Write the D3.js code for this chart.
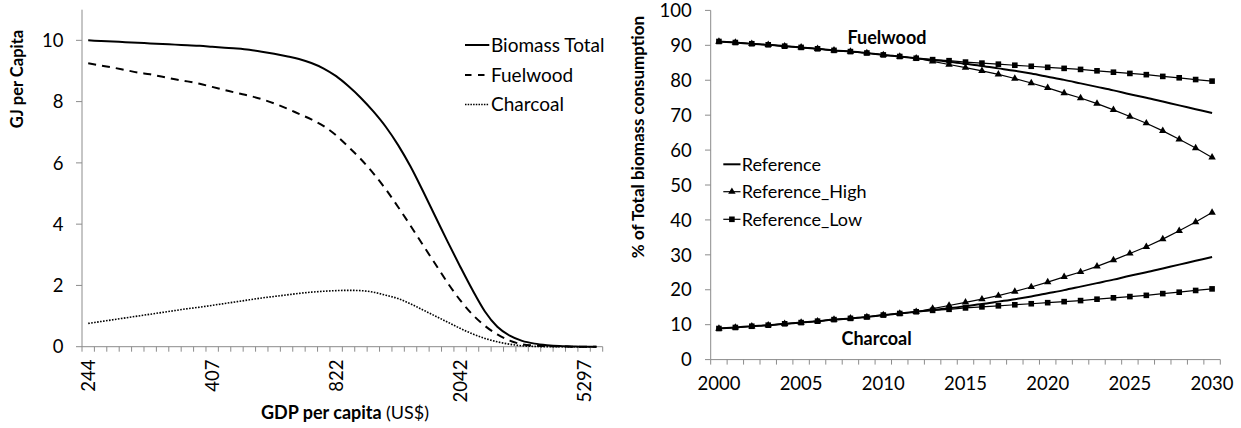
<!DOCTYPE html>
<html>
<head>
<meta charset="utf-8">
<script src="https://cdn.jsdelivr.net/npm/d3@7"></script>
<style>
  html, body { margin: 0; padding: 0; background: #fff; }
  svg { display: block; font-family: Lato, "Open Sans", sans-serif; }
</style>
</head>
<body>
<svg id="chart" width="1241" height="428"></svg>
<script>
// ---------------- LEFT CHART DATA ----------------
const gdpCategories = d3.range(42); // 42 GDP-per-capita categories (log-spaced)
const gdpTickIndex = [0, 10, 20, 30, 40];
const gdpTickLabels = ["244", "407", "822", "2042", "5297"];
const biomassTotal = [10.00, 9.98, 9.96, 9.94, 9.92, 9.90, 9.88, 9.86, 9.84, 9.82,
  9.79, 9.76, 9.73, 9.69, 9.63, 9.56, 9.48, 9.39, 9.26, 9.08,
  8.83, 8.50, 8.12, 7.68, 7.18, 6.58, 5.88, 5.08, 4.25, 3.42,
  2.62, 1.85, 1.15, 0.65, 0.36, 0.19, 0.10, 0.05, 0.02, 0.01, 0.00, 0.00];
const fuelwood = [9.25, 9.18, 9.11, 9.03, 8.95, 8.89, 8.81, 8.73, 8.66, 8.58,
  8.48, 8.38, 8.28, 8.19, 8.08, 7.94, 7.78, 7.60, 7.42, 7.20,
  6.90, 6.52, 6.12, 5.66, 5.14, 4.56, 3.95, 3.32, 2.70, 2.08,
  1.52, 1.05, 0.68, 0.40, 0.20, 0.08, 0.04, 0.02, 0.01, 0.00, 0.00, 0.00];
const charcoal = [0.76, 0.82, 0.88, 0.94, 1.00, 1.06, 1.12, 1.18, 1.24, 1.29,
  1.35, 1.41, 1.47, 1.53, 1.59, 1.64, 1.69, 1.74, 1.78, 1.81,
  1.83, 1.84, 1.83, 1.78, 1.68, 1.57, 1.40, 1.20, 1.00, 0.80,
  0.60, 0.42, 0.27, 0.16, 0.08, 0.03, 0.01, 0.00, 0.00, 0.00, 0.00, 0.00];
const leftYTicks = [0, 2, 4, 6, 8, 10];

// ---------------- RIGHT CHART DATA ----------------
const years = d3.range(2000, 2031);
const yearTicks = [2000, 2005, 2010, 2015, 2020, 2025, 2030];
const rightYTicks = [0, 10, 20, 30, 40, 50, 60, 70, 80, 90, 100];
const fuelRef = [91.1, 90.8, 90.45, 90.15, 89.75, 89.4, 89.0, 88.55, 88.2, 87.8, 87.25, 86.8, 86.3,
  85.8, 85.3, 84.7, 84.1, 83.4, 82.7, 81.9, 81.0, 80.1, 79.1, 78.1, 77.1, 76.0, 75.0, 73.9, 72.8, 71.7, 70.6];
const fuelHigh = [91.1, 90.8, 90.45, 90.15, 89.75, 89.4, 89.0, 88.55, 88.2, 87.8, 87.25, 86.8, 86.3,
  85.4, 84.5, 83.6, 82.7, 81.7, 80.5, 79.2, 77.8, 76.3, 74.9, 73.3, 71.5, 69.6, 67.7, 65.5, 63.1, 60.6, 57.9];
const fuelLow = [91.1, 90.8, 90.45, 90.15, 89.75, 89.4, 89.0, 88.55, 88.2, 87.8, 87.25, 86.8, 86.3,
  85.9, 85.6, 85.2, 84.9, 84.6, 84.3, 84.0, 83.7, 83.4, 83.1, 82.7, 82.3, 81.95, 81.6, 81.1, 80.7, 80.2, 79.75];
const charRef = [8.9, 9.2, 9.55, 9.85, 10.25, 10.6, 11.0, 11.45, 11.8, 12.2, 12.75, 13.2, 13.7,
  14.2, 14.7, 15.3, 15.9, 16.6, 17.3, 18.1, 19.0, 19.9, 20.9, 21.9, 22.9, 24.0, 25.0, 26.1, 27.2, 28.3, 29.4];
const charHigh = [8.9, 9.2, 9.55, 9.85, 10.25, 10.6, 11.0, 11.45, 11.8, 12.2, 12.75, 13.2, 13.7,
  14.6, 15.5, 16.4, 17.3, 18.3, 19.5, 20.8, 22.2, 23.7, 25.1, 26.7, 28.5, 30.4, 32.3, 34.5, 36.9, 39.4, 42.1];
const charLow = [8.9, 9.2, 9.55, 9.85, 10.25, 10.6, 11.0, 11.45, 11.8, 12.2, 12.75, 13.2, 13.7,
  14.1, 14.4, 14.8, 15.1, 15.4, 15.7, 16.0, 16.3, 16.6, 16.9, 17.3, 17.7, 18.05, 18.4, 18.9, 19.3, 19.8, 20.25];

const axisColor = "#8c8c8c";
const textColor = "#000";
const tickFont = 18.5;
const legendFont = 18;
const svg = d3.select("#chart");
svg.append("rect").attr("width", 1241).attr("height", 428).attr("fill", "#fff");

// ================= LEFT CHART =================
(function () {
  const x = d3.scaleBand().domain(gdpCategories).range([82, 602.7]);
  const y = d3.scaleLinear().domain([0, 11]).range([346.7, 9.7]);
  const g = svg.append("g");

  // y axis
  g.append("line").attr("x1", 82).attr("x2", 82).attr("y1", y(11)).attr("y2", y(0))
    .attr("stroke", axisColor).attr("stroke-width", 1);
  leftYTicks.forEach(t => {
    g.append("line").attr("x1", 76).attr("x2", 82).attr("y1", y(t)).attr("y2", y(t))
      .attr("stroke", axisColor);
    g.append("text").attr("x", 63.5).attr("y", y(t)).attr("dy", "0.36em")
      .attr("text-anchor", "end").attr("font-size", tickFont).attr("fill", textColor).text(t);
  });
  // x axis
  g.append("line").attr("x1", 82).attr("x2", 602.7).attr("y1", y(0)).attr("y2", y(0))
    .attr("stroke", axisColor);
  gdpCategories.concat([42]).forEach(i => {
    const xp = i < 42 ? x(i) : x(41) + x.bandwidth();
    g.append("line").attr("x1", xp).attr("x2", xp).attr("y1", y(0)).attr("y2", y(0) + 5)
      .attr("stroke", axisColor);
  });
  gdpTickIndex.forEach((ci, k) => {
    const cx = x(ci) + x.bandwidth() / 2;
    g.append("text").attr("transform", `translate(${cx},359.5) rotate(-90)`)
      .attr("dy", "0.36em").attr("text-anchor", "end").attr("font-size", tickFont)
      .attr("fill", textColor).text(gdpTickLabels[k]);
  });

  const line = d3.line().x((d, i) => x(i) + x.bandwidth() / 2).y(d => y(d)).curve(d3.curveMonotoneX);
  g.append("path").datum(charcoal).attr("d", line).attr("fill", "none")
    .attr("stroke", "#000").attr("stroke-width", 1.6).attr("stroke-dasharray", "1.6,1.4");
  g.append("path").datum(fuelwood).attr("d", line).attr("fill", "none")
    .attr("stroke", "#000").attr("stroke-width", 2).attr("stroke-dasharray", "8,6");
  g.append("path").datum(biomassTotal).attr("d", line).attr("fill", "none")
    .attr("stroke", "#000").attr("stroke-width", 2);

  // legend
  const leg = [
    { name: "Biomass Total", dash: null, w: 2, y: 45 },
    { name: "Fuelwood", dash: "6.5,6.5", w: 2, y: 75 },
    { name: "Charcoal", dash: "1.5,1.2", w: 1.6, y: 104.5 }
  ];
  leg.forEach(l => {
    const ln = g.append("line").attr("x1", 465).attr("x2", 489.3).attr("y1", l.y).attr("y2", l.y)
      .attr("stroke", "#000").attr("stroke-width", l.w);
    if (l.dash) ln.attr("stroke-dasharray", l.dash);
    g.append("text").attr("x", 491).attr("y", l.y).attr("dy", "0.36em")
      .attr("font-size", legendFont + 1).attr("fill", textColor).text(l.name);
  });

  // titles
  g.append("text").attr("transform", "translate(17,79) rotate(-90)").attr("dy", "0.36em")
    .attr("text-anchor", "middle").attr("font-size", 16.5).attr("font-weight", "bold")
    .attr("fill", textColor).text("GJ per Capita");
  const xt = g.append("text").attr("x", 345).attr("y", 419).attr("text-anchor", "middle")
    .attr("font-size", 18).attr("fill", textColor);
  xt.append("tspan").attr("font-weight", "bold").text("GDP per capita ");
  xt.append("tspan").text("(US$)");
})();

// ================= RIGHT CHART =================
(function () {
  const x = d3.scaleBand().domain(years).range([710.7, 1220.3]);
  const y = d3.scaleLinear().domain([0, 100]).range([359.6, 10.4]);
  const g = svg.append("g");
  const cx = d => x(d) + x.bandwidth() / 2;

  g.append("line").attr("x1", 710.7).attr("x2", 710.7).attr("y1", y(100)).attr("y2", y(0))
    .attr("stroke", axisColor);
  rightYTicks.forEach(t => {
    g.append("line").attr("x1", 705).attr("x2", 710.7).attr("y1", y(t)).attr("y2", y(t))
      .attr("stroke", axisColor);
    g.append("text").attr("x", 691.7).attr("y", y(t)).attr("dy", "0.36em")
      .attr("text-anchor", "end").attr("font-size", tickFont).attr("fill", textColor).text(t);
  });
  g.append("line").attr("x1", 710.7).attr("x2", 1220.3).attr("y1", y(0)).attr("y2", y(0))
    .attr("stroke", axisColor);
  years.forEach(yr => {
    g.append("line").attr("x1", x(yr)).attr("x2", x(yr)).attr("y1", y(0)).attr("y2", y(0) + 5)
      .attr("stroke", axisColor);
  });
  g.append("line").attr("x1", 1220.3).attr("x2", 1220.3).attr("y1", y(0)).attr("y2", y(0) + 5)
    .attr("stroke", axisColor);
  yearTicks.forEach(yr => {
    g.append("text").attr("x", cx(yr)).attr("y", 389.5).attr("text-anchor", "middle")
      .attr("font-size", tickFont).attr("fill", textColor).text(yr);
  });

  const line = d3.line().x((d, i) => cx(years[i])).y(d => y(d));
  const smooth = d3.line().x((d, i) => cx(years[i])).y(d => y(d)).curve(d3.curveMonotoneX);
  const tri = d3.symbol().type(d3.symbolTriangle).size(24);

  function drawMarked(data, kind) {
    g.append("path").datum(data).attr("d", line).attr("fill", "none")
      .attr("stroke", "#000").attr("stroke-width", 1.2);
    data.forEach((v, i) => {
      if (kind === "sq") {
        g.append("rect").attr("x", cx(years[i]) - 2.8).attr("y", y(v) - 2.8)
          .attr("width", 5.6).attr("height", 5.6).attr("fill", "#000");
      } else {
        g.append("path").attr("d", tri).attr("transform", `translate(${cx(years[i])},${y(v)})`)
          .attr("fill", "#000");
      }
    });
  }
  [fuelRef, charRef].forEach(d => g.append("path").datum(d).attr("d", smooth).attr("fill", "none")
    .attr("stroke", "#000").attr("stroke-width", 2));
  drawMarked(fuelHigh, "tri");
  drawMarked(charHigh, "tri");
  drawMarked(fuelLow, "sq");
  drawMarked(charLow, "sq");

  // legend
  const legY = [164.3, 191.7, 219.3];
  const names = ["Reference", "Reference_High", "Reference_Low"];
  names.forEach((n, k) => {
    g.append("line").attr("x1", 723.3).attr("x2", 740.5).attr("y1", legY[k]).attr("y2", legY[k])
      .attr("stroke", "#000").attr("stroke-width", k === 0 ? 2 : 1.2);
    if (k === 1) g.append("path").attr("d", tri).attr("transform", `translate(731.9,${legY[k]})`).attr("fill", "#000");
    if (k === 2) g.append("rect").attr("x", 729.1).attr("y", legY[k] - 2.8).attr("width", 5.6).attr("height", 5.6).attr("fill", "#000");
    g.append("text").attr("x", 741.7).attr("y", legY[k]).attr("dy", "0.36em")
      .attr("font-size", legendFont).attr("fill", textColor).text(n);
  });

  g.append("text").attr("x", 887).attr("y", 37.5).attr("dy", "0.36em").attr("text-anchor", "middle")
    .attr("font-size", 18).attr("font-weight", "bold").attr("fill", textColor).text("Fuelwood");
  g.append("text").attr("x", 876.6).attr("y", 339).attr("dy", "0.36em").attr("text-anchor", "middle")
    .attr("font-size", 18).attr("font-weight", "bold").attr("fill", textColor).text("Charcoal");

  g.append("text").attr("transform", "translate(638,137) rotate(-90)").attr("dy", "0.36em")
    .attr("text-anchor", "middle").attr("font-size", 17).attr("font-weight", "bold")
    .attr("fill", textColor).text("% of Total biomass consumption");
})();
</script>
</body>
</html>
